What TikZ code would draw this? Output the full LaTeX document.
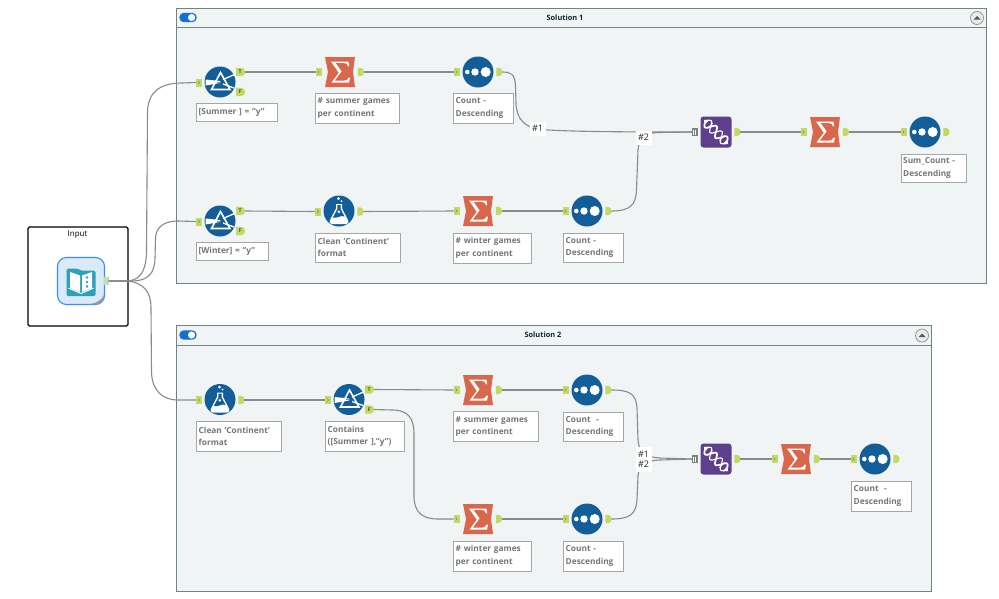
\documentclass[tikz,border=0pt]{standalone}
\usepackage{fontspec}
\setmainfont{Open Sans}
\definecolor{panel}{HTML}{F0F4F5}
\definecolor{panelline}{HTML}{6E8583}
\definecolor{toolblue}{HTML}{135E98}
\definecolor{sumred}{HTML}{D9674C}
\definecolor{dnapurple}{HTML}{5E3F8C}
\definecolor{portgreen}{HTML}{C0DA63}
\definecolor{wirecol}{HTML}{8A8A8A}
\definecolor{labeltext}{HTML}{767676}
\definecolor{labelline}{HTML}{A6A6A6}
\definecolor{teal}{HTML}{2AA3B8}
\definecolor{switchblue}{HTML}{1470CC}
\tikzset{
  wire/.style={draw=wirecol,line width=1.1pt},
  panelbox/.style={draw=panelline,line width=1pt,fill=panel},
  paneltitle/.style={font=\fontsize{7.4}{9}\selectfont\bfseries,text=black!75!teal,inner sep=0pt},
  tag/.style={fill=white,font=\fontsize{9}{11.5}\selectfont,text=black!85,inner sep=0pt,align=center},
  toolcap/.style={draw=labelline,line width=1pt,fill=white,font=\fontsize{8.3}{12.4}\selectfont\bfseries,text=labeltext,inner xsep=1.6pt,inner ysep=0pt,align=left},
  flagtext/.style={inner sep=0pt,font=\fontsize{5.2}{5}\selectfont\bfseries,text=black!70},
  portin/.pic={
    \fill[portgreen] (-3,-4) -- (3,-4) -- (3,4) -- (-3,4) -- cycle;
    \draw[black!55,line width=.4pt] (-.7,-1.4) -- (.7,0) -- (-.7,1.4);
  },
  portout/.pic={
    \fill[portgreen] (-2.6,-4.2) -- (.2,-4.2) .. controls (3,-4.2) and (3.4,-1.5) .. (3.4,0)
      .. controls (3.4,1.5) and (3,4.2) .. (.2,4.2) -- (-2.6,4.2) -- cycle;
  },
  portflag/.pic={
    \fill[portgreen] (-4.4,-4.2) -- (1.2,-4.2) .. controls (3.8,-4.2) and (4.6,-1.5) .. (4.6,0)
      .. controls (4.6,1.5) and (3.8,4.2) .. (1.2,4.2) -- (-4.4,4.2) -- cycle;
  },
  filtertool/.pic={
    \fill[toolblue] (0,0) circle (15.5);
    \draw[white,line width=1.6pt,line join=miter] (.5,-9.5) -- (-8.5,7.5) -- (10,7.5) -- cycle;
    \fill[white] (-14.5,-2.5) -- (0,-1) -- (0,1) -- (-14.5,3.5) -- cycle;
    \draw[white,line width=1.3pt] (3,-2.5) -- (14.5,-7.5);
    \draw[white,line width=1.3pt] (3,2) -- (14,6);
    \draw[black!45,line width=.6pt] (-3,.2) -- (1,.2);
    \pic at (-21,0.5) {portin};
    \coordinate (-in) at (-24,0.5);
    \pic at (20.4,-10) {portflag};
    \pic at (20.4,10) {portflag};
    \node[flagtext] at (20.2,-10) {T};
    \node[flagtext] at (20.2,10) {F};
    \coordinate (-T) at (25,-10);
    \coordinate (-F) at (25,10);
  },
  sumtool/.pic={
    \fill[sumred] (-15,-15) -- (15,-15) -- (13,0) -- (15,15) -- (-15,15) -- (-12,0) -- cycle;
    \fill[white] (8.5,-10.5) -- (-9,-10.5) -- (-1.2,.8) -- (-8.5,10.5) -- (9,10.5) -- (10,5.5) -- (8.6,5.5)
      .. controls (8,8) and (6,8.6) .. (4,8.6) -- (-5.4,8.6) -- (1.6,-.6) -- (-4.6,-9.2) -- (3,-9.2)
      .. controls (6,-9.2) and (7.6,-8) .. (8.2,-5.6) -- (9.2,-5.6) -- cycle;
    \pic at (-21.5,0) {portin};
    \coordinate (-in) at (-24.5,0);
    \pic at (20.5,0) {portout};
    \coordinate (-out) at (23.9,0);
  },
  sorttool/.pic={
    \fill[toolblue] (0,0) circle (15.5);
    \fill[white] (-10.7,0) circle (2.3) (-3,0) circle (3.7) (7.7,0) circle (5);
    \pic at (-21.5,0) {portin};
    \coordinate (-in) at (-24.5,0);
    \pic at (21,0) {portout};
    \coordinate (-out) at (24.4,0);
  },
  flasktool/.pic={
    \fill[toolblue] (0,0) circle (15.5);
    \fill[white] (-3,-7) -- (3,-7) -- (3,-2.5) -- (9,9) .. controls (10,12) and (8.5,13) .. (7,13)
      -- (-7,13) .. controls (-8.5,13) and (-10,12) .. (-9,9) -- (-3,-2.5) -- cycle;
    \fill[toolblue] (-1.6,-6) -- (1.6,-6) -- (1.6,-2) -- (5.6,5.5)
      .. controls (2,3.5) and (-2,8) .. (-6.2,6.5) -- (-1.6,-2) -- cycle;
    \fill[white] (-.2,.8) circle (1.4);
    \fill[white] (-.5,-12.5) circle (1.5) (2.5,-9.8) circle (1);
    \pic at (-21,0.5) {portin};
    \coordinate (-in) at (-24,0.5);
    \pic at (21,0.5) {portout};
    \coordinate (-out) at (24.4,0.5);
  },
  dnatool/.pic={
    \fill[dnapurple,rounded corners=3pt] (-15.5,-15.5) rectangle (15.5,15.5);
    \draw[white,line width=1.7pt,samples=40,domain=-14:14,smooth,variable=\t]
      plot ({(\t-4.6*sin(\t*24))*.707},{(\t+4.6*sin(\t*24))*.707});
    \draw[white,line width=1.1pt,samples=40,domain=-14:14,smooth,variable=\t]
      plot ({(\t+4.6*sin(\t*24))*.707},{(\t-4.6*sin(\t*24))*.707});
    \draw[white,line width=.9pt] (-8.5,-3.5) -- (-3.5,-8.5) (3.5,8.5) -- (8.5,3.5);
    \fill[white] (-12,-12) -- (-6.5,-12.5) -- (-11.5,-7) -- cycle;
    \fill[white] (12,12) -- (6.5,12.5) -- (11.5,7) -- cycle;
    \fill[black!50] (-24,-4) rectangle (-18,4);
    \draw[white,line width=.5pt] (-22.5,-2.5) -- (-22.5,2.5) (-20.5,-2.5) -- (-20.5,2.5);
    \coordinate (-in) at (-24,0);
    \pic at (21,0) {portout};
    \coordinate (-out) at (24.4,0);
  },
  booktool/.pic={
    \fill[white] (-24,-24) rectangle (24,24);
    \draw[draw=blue!55!cyan!80,line width=1.1pt,fill=switchblue!15!white,rounded corners=9pt] (-23.5,-23.5) rectangle (23.5,23.5);
    \fill[black!40] (23,14) .. controls (20,20) and (14,23) .. (5,23.4) -- (15,23.4) .. controls (20,23) and (23,20) .. (23,14) -- cycle;
    \fill[teal,rounded corners=1.5pt] (-14.5,-12.5) -- (-3,-12.5) -- (-1,-10.5) -- (14.5,-10.5) -- (14.5,15) -- (-14.5,15) -- cycle;
    \fill[white] (-11,-9) -- (-1,-5.5) -- (-1,11) -- (-11,7) -- cycle;
    \fill[white] (11,-9) -- (1,-5.5) -- (1,11) -- (11,7) -- cycle;
    \draw[white,line width=1pt] (-12.5,7) -- (0,12.5) -- (12.5,7);
    \fill[teal] (6,-3.5) circle (1.3) (6,1) circle (1.3) (6,5.5) circle (1.3);
    \fill[portgreen!70!teal!60!white] (23,-4) rectangle (27.5,4);
    \coordinate (-out) at (27.5,0);
  },
  switchpill/.pic={
    \fill[switchblue,rounded corners=4.5pt] (-8.7,-4.7) rectangle (8.7,4.7);
    \fill[white] (3.6,0) circle (3.6);
  },
  collapsebtn/.pic={
    \draw[black!45,line width=.7pt,fill=black!8] (0,0) circle (6.5);
    \fill[black!65] (-3.6,1.6) -- (0,-2) -- (3.6,1.6) -- cycle;
  }
}
% caption box given by its left, top, right and bottom edges
\newcommand{\toolcaption}[6]{%
  \node[toolcap,minimum width=#4-#2,minimum height=#5-#3,text width=#4-#2-4.4pt] (#1) at ({(#2+#4)/2},{(#3+#5)/2}) {#6};}
\begin{document}
\begin{tikzpicture}[x=1pt,y=-1pt]
\useasboundingbox (0,0) rectangle (999,598);
\fill[white] (0,0) rectangle (999,598);

% containers
\draw[panelbox] (176,8) rectangle (986,283);
\draw[panelline,line width=1pt] (176,27.5) -- (986,27.5);
\node[paneltitle] (titleA) at (565,17.5) {Solution 1};
\pic at (188,17.5) {switchpill};
\pic at (977,18) {collapsebtn};

\draw[panelbox] (176,325.5) rectangle (931,591);
\draw[panelline,line width=1pt] (176,345) -- (931,345);
\node[paneltitle] (titleB) at (543,335) {Solution 2};
\pic at (188,335) {switchpill};
\pic at (922,335.5) {collapsebtn};

\draw[black,line width=1.1pt,rounded corners=1.5pt] (28,227) rectangle (128,326);
\node[inner sep=0pt,font=\fontsize{8}{10}\selectfont,text=black] (titleC) at (77.5,235) {Input};

% tools
\pic (book) at (81,281) {booktool};

\pic (fa) at (220,82) {filtertool};
\pic (sa) at (340,72) {sumtool};
\pic (oa) at (478,72) {sorttool};
\pic (fb) at (220,221) {filtertool};
\pic (xb) at (339,211) {flasktool};
\pic (sb) at (478,211) {sumtool};
\pic (ob) at (587,211) {sorttool};
\pic (ua) at (716,132) {dnatool};
\pic (sc) at (825,132) {sumtool};
\pic (oc) at (925,132) {sorttool};

\pic (xd) at (220,399.5) {flasktool};
\pic (fd) at (349,399.5) {filtertool};
\pic (sd) at (478,390) {sumtool};
\pic (od) at (587,390) {sorttool};
\pic (se) at (478,519) {sumtool};
\pic (oe) at (587,519) {sorttool};
\pic (ub) at (716,459) {dnatool};
\pic (sf) at (796,459) {sumtool};
\pic (of) at (875,459) {sorttool};

% connectors
\draw[wire] (book-out) -- (126,281) .. controls (141,281) and (146,270) .. (146.5,252)
  -- (147.5,112) .. controls (148,92) and (160,83) .. (182,83) -- (fa-in);
\draw[wire] (book-out) -- (132,281) .. controls (147,281) and (155,274) .. (155,258)
  -- (155.5,238) .. controls (156,227) and (164,221) .. (178,221) -- (fb-in);
\draw[wire] (book-out) -- (128,281) .. controls (143,283) and (151,291) .. (151,308)
  -- (151.5,372) .. controls (152,390) and (162,400) .. (178,400) -- (xd-in);
\draw[wire] (fa-T) -- (sa-in);
\draw[wire] (sa-out) -- (oa-in);
\draw[wire] (oa-out) .. controls (511,72) and (515,74) .. (515.5,86)
  -- (516,104) .. controls (517,120) and (525,127) .. (540,129.5)
  .. controls (570,131.5) and (610,132) .. (ua-in);
\draw[wire] (fb-T) -- (xb-in);
\draw[wire] (xb-out) -- (sb-in);
\draw[wire] (sb-out) -- (ob-in);
\draw[wire] (ob-out) .. controls (630,211) and (636,205) .. (636.5,190)
  -- (638,150) .. controls (639,138) and (645,133) .. (658,132.5) -- (ua-in);
\draw[wire] (ua-out) -- (sc-in);
\draw[wire] (sc-out) -- (oc-in);

\draw[wire] (xd-out) -- (fd-in);
\draw[wire] (fd-T) -- (sd-in);
\draw[wire] (fd-F) -- (392,410) .. controls (408,410) and (414,418) .. (414,434)
  -- (414,496) .. controls (414,512) and (422,519) .. (438,519) -- (se-in);
\draw[wire] (sd-out) -- (od-in);
\draw[wire] (se-out) -- (oe-in);
\draw[wire] (od-out) .. controls (630,390) and (636,394) .. (637,408)
  -- (638,440) .. controls (639,452) and (645,457) .. (660,458) -- (ub-in);
\draw[wire] (oe-out) .. controls (630,519) and (636,514) .. (637,500)
  -- (638,476) .. controls (639,465) and (645,460.5) .. (660,460) -- (ub-in);
\draw[wire] (ub-out) -- (sf-in);
\draw[wire] (sf-out) -- (of-in);

% connection numbers
\node[tag,minimum width=16pt,minimum height=14pt] (ta) at (537.5,128.5) {\#1};
\node[tag,minimum width=16pt,minimum height=14pt] (tb) at (643.5,137.5) {\#2};
\node[tag,minimum width=16pt,minimum height=25pt] (tc) at (643.5,459) {\#1\\[-1.6pt]\#2};

% captions
\toolcaption{ca}{196.5}{103}{277}{121}{[Summer ] = "y"}
\toolcaption{cb}{315.5}{93}{399.5}{123}{\# summer games\\per continent}
\toolcaption{cc}{453.5}{93}{513}{123}{Count -\\Descending}
\toolcaption{cd}{196.5}{242}{268}{260}{[Winter] = "y"}
\toolcaption{ce}{315.5}{233}{400}{262}{Clean 'Continent'\\format}
\toolcaption{cf}{453.5}{233}{531}{263}{\# winter games\\per continent}
\toolcaption{cg}{563.5}{233}{623}{262.5}{Count -\\Descending}
\toolcaption{ch}{901}{154}{966}{182}{Sum\_Count -\\Descending}

\toolcaption{ci}{196.5}{421.5}{281}{451}{Clean 'Continent'\\format}
\toolcaption{cj}{325.5}{421.5}{404.5}{451}{Contains\\([Summer ],"y")}
\toolcaption{ck}{453.5}{411.5}{538}{441}{\# summer games\\per continent}
\toolcaption{cl}{563.5}{412}{623}{441.5}{Count\ \ -\\Descending}
\toolcaption{cm}{453.5}{541}{531}{571}{\# winter games\\per continent}
\toolcaption{cn}{563.5}{541}{623}{571}{Count -\\Descending}
\toolcaption{co}{851.5}{481}{911}{511}{Count\ \ -\\Descending}
\end{tikzpicture}
\end{document}
